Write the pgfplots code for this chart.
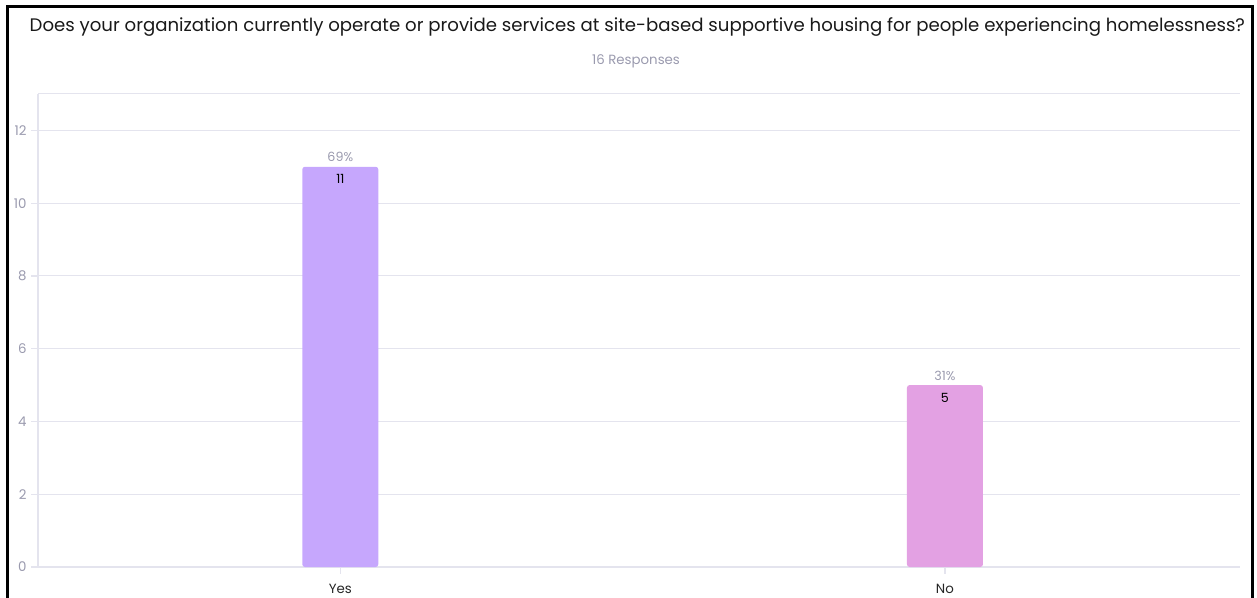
\documentclass[border=0pt]{standalone}
\usepackage{pgfplots}
\pgfplotsset{compat=1.18}
\usepackage{fontspec}
\setmainfont{Poppins}
\definecolor{gridc}{HTML}{E4E4EE}
\definecolor{tickc}{HTML}{9A9AAE}
\definecolor{yesc}{HTML}{C6A7FD}
\definecolor{noc}{HTML}{E3A1E3}
\begin{document}
\begin{tikzpicture}
\useasboundingbox (0,0) rectangle (942.75pt,-448.5pt);
\draw[line width=2.25pt] (5.25pt,-470pt) -- (5.25pt,-5.25pt) -- (939pt,-5.25pt) -- (939pt,-470pt);
\node[font=\fontsize{13.6}{15}\selectfont, text=black!90] at (478pt,-20.5pt) {Does your organization currently operate or provide services at site-based supportive housing for people experiencing homelessness?};
\node[font=\fontsize{10}{12}\selectfont, text=tickc] at (477pt,-46pt) {16 Responses};
\begin{axis}[
  at={(28.5pt,-425.25pt)}, anchor=south west,
  scale only axis, width=901.5pt, height=354.75pt,
  xmin=-0.5, xmax=1.488, ymin=0, ymax=13,
  ytick={0,2,...,12}, xtick={0,1}, xticklabels={Yes,No},
  extra y ticks={13}, extra y tick labels={},
  extra y tick style={major tick length=0pt, grid=major},
  ymajorgrids, grid style={gridc, line width=0.75pt},
  axis x line*=bottom, axis y line*=left,
  axis line style={gridc, line width=0.9pt},
  tick style={gridc, line width=0.9pt},
  major tick length=5pt, tick align=outside,
  yticklabel style={font=\fontsize{10}{12}\selectfont, text=tickc},
  xticklabel style={font=\fontsize{10}{12}\selectfont, text=black!85, yshift=-4.5pt},
  /pgf/number format/assume math mode=true,
  ybar, bar width=57pt,
  nodes near coords, nodes near coords align={below},
  every node near coord/.append style={font=\fontsize{9.5}{11}\selectfont, text=black, yshift=-2.5pt},
  clip=false,
]
\addplot[draw=none, fill=yesc, bar shift=0pt, rounded corners=2pt] coordinates {(0,11)};
\addplot[draw=none, fill=noc, bar shift=0pt, rounded corners=2pt] coordinates {(1,5)};
\node[font=\fontsize{9.5}{11}\selectfont, text=tickc, above] at (axis cs:0,11.0) {69\%};
\node[font=\fontsize{9.5}{11}\selectfont, text=tickc, above] at (axis cs:1,5.0) {31\%};
\end{axis}
\end{tikzpicture}
\end{document}
